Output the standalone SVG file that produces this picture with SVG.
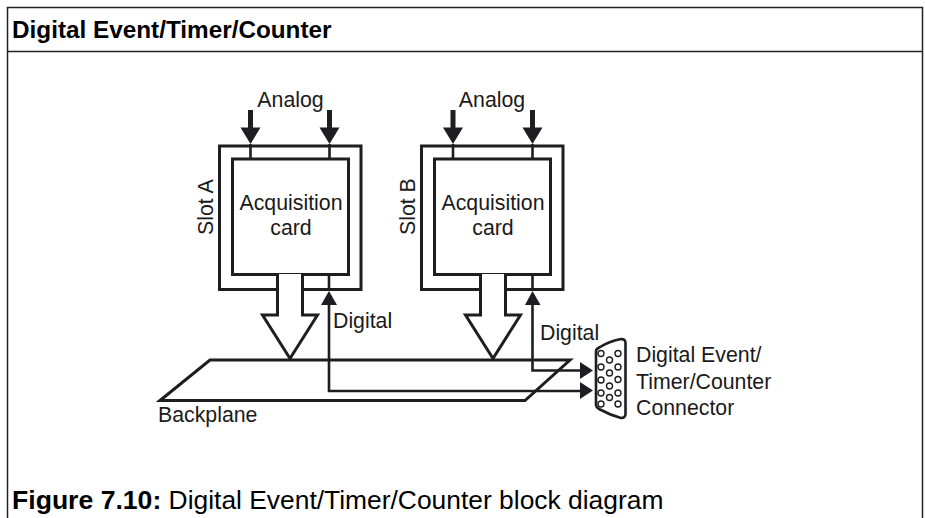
<svg xmlns="http://www.w3.org/2000/svg" width="925" height="518" viewBox="0 0 925 518">
<style>
text{font-family:"Liberation Sans",Arial,sans-serif;fill:#1a1a1a;font-size:21.3px}
.h{font-size:24.3px;font-weight:bold;fill:#000}
.cb{font-size:26.6px;font-weight:bold;fill:#000}
.c{font-size:26.4px;fill:#000}
.m{text-anchor:middle}
.frame{fill:none;stroke:#222;stroke-width:1.5}
.k{fill:none;stroke:#1d1d22;stroke-width:3}
.w{fill:#fff;stroke:#1d1d22;stroke-width:3}
.t{fill:none;stroke:#1d1d22;stroke-width:2.6}
.hd{fill:#1d1d22;stroke:none}
.hole{fill:#fff;stroke:#1d1d22;stroke-width:1.4}
</style>
<defs>
<g id="analog"><rect x="-2.500" y="-34" width="5" height="18" class="hd"/><path d="M-10-16.500H10L0 0Z" class="hd"/><path d="M0 0V15" class="t"/></g>
<g id="slot">
<rect x="0" y="0" width="141.500" height="143.500" class="k"/>
<rect x="13" y="13" width="116" height="115.500" class="w"/>
</g>
<path id="hollow" d="M0 0V41H-15L12.500 84.500L40 41H25V0" class="w"/>
</defs>
<g id="frame">
<path d="M7.500 518V7.500H922.500V518M7.500 51.500H922.500" class="frame"/>
<text x="12" y="37.500" class="h">Digital Event/Timer/Counter</text>
<text x="12" y="508.500"><tspan class="cb">Figure 7.10:</tspan><tspan class="c"> Digital Event/Timer/Counter block diagram</tspan></text>
</g>
<g id="backplane">
<path d="M160 400.500L210 360H570L525 400.500Z" class="k"/>
<text x="158" y="422">Backplane</text>
</g>
<g id="slot-a">
<use href="#slot" x="219.500" y="146"/>
<use href="#analog" x="250.500" y="144"/>
<use href="#analog" x="329.500" y="144"/>
<text x="290.500" y="107" class="m">Analog</text>
<text x="291" y="209.500" class="m">Acquisition</text>
<text x="291" y="234.500" class="m">card</text>
<text transform="translate(212.500 235) rotate(-90)">Slot A</text>
</g>
<g id="slot-b">
<use href="#slot" x="421.500" y="146"/>
<use href="#analog" x="453" y="144"/>
<use href="#analog" x="532.500" y="144"/>
<text x="492" y="107" class="m">Analog</text>
<text x="493" y="209.500" class="m">Acquisition</text>
<text x="493" y="234.500" class="m">card</text>
<text transform="translate(415 235) rotate(-90)">Slot B</text>
</g>
<g id="bus-a"><rect x="279" y="276" width="22" height="16" fill="#fff"/><use href="#hollow" x="277.500" y="274"/></g>
<g id="bus-b"><rect x="482" y="276" width="22" height="16" fill="#fff"/><use href="#hollow" x="480.500" y="274"/></g>
<g id="connector">
<path d="M596 351Q596 349 600 347Q610 341 621 339Q625.500 339 625.500 343V414Q625.500 418 621 418Q610 415 599 409Q596 407 596 405Z" class="w" style="stroke-width:2.6"/>
<g>
<circle cx="601" cy="353.500" r="3" class="hole"/><circle cx="601" cy="367" r="3" class="hole"/><circle cx="601" cy="380" r="3" class="hole"/><circle cx="601" cy="393" r="3" class="hole"/><circle cx="601" cy="404" r="3" class="hole"/>
<circle cx="609.500" cy="360" r="3" class="hole"/><circle cx="609.500" cy="373" r="3" class="hole"/><circle cx="609.500" cy="386" r="3" class="hole"/><circle cx="609.500" cy="397.500" r="3" class="hole"/>
<circle cx="618" cy="353.500" r="3" class="hole"/><circle cx="618" cy="367" r="3" class="hole"/><circle cx="618" cy="379.500" r="3" class="hole"/><circle cx="618" cy="393" r="3" class="hole"/><circle cx="618" cy="404" r="3" class="hole"/>
</g>
<text x="636" y="362">Digital Event/</text>
<text x="636" y="389">Timer/Counter</text>
<text x="636" y="414.500">Connector</text>
</g>
<g id="connectors">
<path d="M329 304V391H582" class="t"/>
<path d="M329 274V291" class="t"/>
<path d="M321 305H337L329 291Z" class="hd"/>
<path d="M580 382L593 390.500L580 399Z" class="hd"/>
<path d="M532.500 304V370.500H582" class="t"/>
<path d="M532.500 274V291" class="t"/>
<path d="M525 305H540.500L532.500 291Z" class="hd"/>
<path d="M580 362L593 370.500L580 379Z" class="hd"/>
<text x="333" y="328">Digital</text>
<text x="540" y="340">Digital</text>
</g>
</svg>
